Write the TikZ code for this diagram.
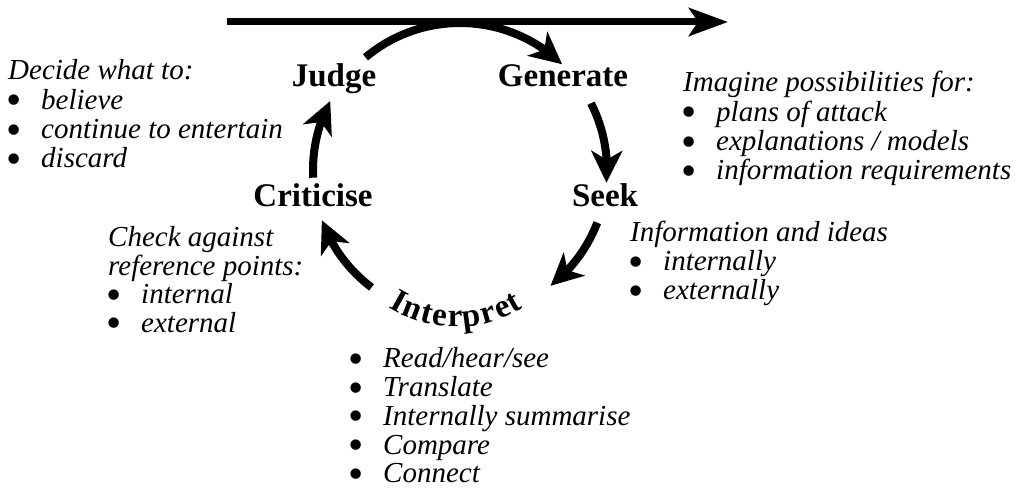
\documentclass[tikz,border=0pt]{standalone}
\usepackage{fontspec}
\setmainfont{Liberation Serif}[ItalicFont={Liberation Serif Italic},BoldFont={Liberation Serif Bold},BoldItalicFont={Liberation Serif Bold Italic}]
\usetikzlibrary{arrows.meta,bending,calc}
\newcommand{\bul}{\makebox[33pt][l]{\hspace{-2pt}\raisebox{-5.5pt}{\scalebox{1.5}{\upshape\textbullet}}}}
\begin{document}
\begin{tikzpicture}[x=1pt,y=1pt,
  stage/.style={font=\fontsize{33}{33}\selectfont\bfseries, inner sep=0pt, anchor=base},
  note/.style={font=\fontsize{29}{29.3}\selectfont\itshape, inner sep=0pt, anchor=base west},
  cyc/.style={line width=8pt, -{Stealth[length=32pt,width=31pt,inset=9pt]}},
  timeline/.style={line width=7pt, -{Stealth[length=39pt,width=28pt,inset=9pt]}}]
\useasboundingbox (0,0) rectangle (1024,502);
% cycle centre
\coordinate (O) at (460,332);
\coordinate (IC) at (456,302);
% time line
\coordinate (t0) at (227,480);
\coordinate (t1) at (728,480);
\draw[timeline] (t0) -- (t1);
% stage labels
\node[stage] (judge) at (334,415) {Judge};
\node[stage] (generate) at (563,415) {Generate};
\node[stage] (seek) at (605,295) {Seek};
\node[stage] (criticise) at (313,295) {Criticise};
% curved label Interpret
\foreach \ch/\ang [count=\k] in {I/240.8, n/248.5, t/255.8, e/262.2, r/269.5, p/277.7, r/285.8, e/293.2, t/299.6}
  \node[stage, rotate=\ang-270] (interp\k) at ($(IC)+(\ang:127)$) {\ch};
% cycle arrows
\draw[cyc] (O) ++(130:147) arc[start angle=130, end angle=46, radius=147];
\draw[cyc] (O) ++(27:147) arc[start angle=27, end angle=-5, radius=147];
\draw[cyc] (O) ++(-21:147) arc[start angle=-21, end angle=-52, radius=147];
\draw[cyc] (O) ++(233:147) arc[start angle=233, end angle=200, radius=147];
\draw[cyc] (O) ++(183:147) arc[start angle=183, end angle=152, radius=147];
% notes
\node[note] (decide) at (8,422) {\vtop{\baselineskip=29.3pt
  \hbox{Decide what to:}\hbox{\bul believe}\hbox{\bul continue to entertain}\hbox{\bul discard}}};
\node[note] (imagine) at (683,410) {\vtop{\baselineskip=29.3pt
  \hbox{Imagine possibilities for:}\hbox{\bul plans of attack}\hbox{\bul explanations / models}\hbox{\bul information requirements}}};
\node[note] (info) at (630,260) {\vtop{\baselineskip=29pt
  \hbox{Information and ideas}\hbox{\bul internally}\hbox{\bul externally}}};
\node[note] (check) at (108,255) {\vtop{\baselineskip=28.5pt
  \hbox{Check against}\hbox{reference points:}\hbox{\bul internal}\hbox{\bul external}}};
\node[note] (interplist) at (350,134) {\vtop{\baselineskip=28.7pt
  \hbox{\bul Read/hear/see}\hbox{\bul Translate}\hbox{\bul Internally summarise}\hbox{\bul Compare}\hbox{\bul Connect}}};
\end{tikzpicture}
\end{document}
